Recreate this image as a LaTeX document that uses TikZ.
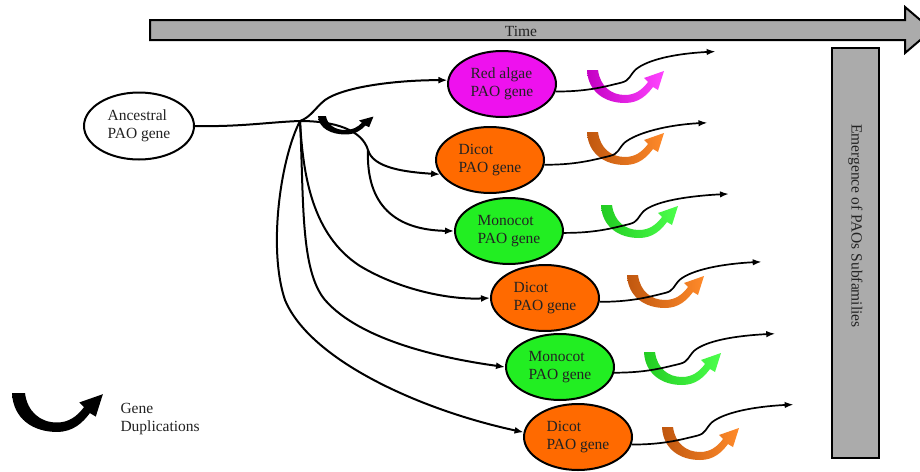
\documentclass[tikz,border=0pt]{standalone}
\usepackage{fontspec}
\setmainfont{Liberation Serif}
\usetikzlibrary{arrows.meta,shapes.geometric,calc}
\definecolor{pgray}{HTML}{ABABAB}
\definecolor{magE}{HTML}{EE11EE}
\definecolor{orE}{HTML}{FF6A00}
\definecolor{grE}{HTML}{22EE22}
\definecolor{magA}{HTML}{C400C4}
\definecolor{magB}{HTML}{FF44FF}
\definecolor{orA}{HTML}{C0570F}
\definecolor{orB}{HTML}{FF8A2A}
\definecolor{grA}{HTML}{22CC22}
\definecolor{grB}{HTML}{4CFF4C}
\definecolor{txt}{HTML}{222222}
\tikzset{
  gene/.style={ellipse,draw=black,line width=2pt,minimum width=108pt,minimum height=66pt,
    inner sep=0pt,align=left,text=txt,font=\fontsize{15.5}{18}\selectfont},
  link/.style={line width=2pt,-{Latex[length=9pt,width=7pt]}},
  outl/.style={line width=1.7pt,-{Latex[length=9pt,width=6.5pt]}},
  lbl/.style={text=txt,font=\fontsize{15.5}{18}\selectfont},
  pics/dup/.style 2 args={code={
    \shade[left color=#1,right color=#2]
      (0,0) .. controls (1,22) and (18,33) .. (38,33)
      .. controls (52,33) and (60,25) .. (66,17) -- (71,20) -- (77,1) -- (57,8) -- (61,12)
      .. controls (55,20) and (48,25) .. (38,25)
      .. controls (24,25) and (13,16) .. (11,0) -- cycle;}}
}
\begin{document}
\begin{tikzpicture}[x=1pt,y=-1pt]
\useasboundingbox (0,0) rectangle (920,471);
\fill[white] (0,0) rectangle (920,471);

% time arrow
\draw[line width=2pt,fill=pgray] (150,20) -- (905,20) -- (905,7) -- (932,30) -- (905,53) -- (905,40) -- (150,40) -- cycle;
\node[lbl] (time) at (521,31) {Time};

% emergence bar
\draw[line width=2pt,fill=pgray] (832,48) rectangle (879,458);
\node[lbl,rotate=-90] (emg) at (855.5,226) {Emergence of PAOs Subfamilies};

% genes
\node[gene,fill=white,minimum width=110pt,minimum height=67pt] (anc) at (139,126) {Ancestral\\PAO gene};
\node[gene,fill=magE] (ra) at (502,84) {Red algae\\PAO gene};
\node[gene,fill=orE] (d1) at (490,160) {Dicot\\PAO gene};
\node[gene,fill=grE] (m1) at (509,231) {Monocot\\PAO gene};
\node[gene,fill=orE] (d2) at (545,298) {Dicot\\PAO gene};
\node[gene,fill=grE] (m2) at (560,367) {Monocot\\PAO gene};
\node[gene,fill=orE] (d3) at (578,437) {Dicot\\PAO gene};

% duplication arrows
\pic[xscale=0.72,yscale=0.56] at (318,116) {dup={black}{black}};
\pic at (587,70) {dup={magA}{magB}};
\pic at (587,132) {dup={orA}{orB}};
\pic at (601,205) {dup={grA}{grB}};
\pic at (627,275) {dup={orA}{orB}};
\pic at (644,352) {dup={grA}{grB}};
\pic at (662,427) {dup={orA}{orB}};
\pic[scale=1.18] at (12,393) {dup={black}{black}};
\node[lbl,align=left,anchor=west] (leg) at (117,419) {Gene\\Duplications};

% tree
\coordinate (j) at (300,121);
\coordinate (k) at (368,150);
\draw[line width=2pt] (anc.east) .. controls (240,127) and (270,122) .. (j);
\draw[link] (j) .. controls (311,117) and (315,108) .. (325,100) .. controls (345,86) and (400,80) .. (ra.176);
\draw[line width=2pt] (j) .. controls (335,121) and (362,130) .. (k);
\draw[link] (k) .. controls (373,168) and (405,172) .. (d1.196);
\draw[link] (k) .. controls (366,205) and (395,230) .. (m1.west);
\draw[link] (j) .. controls (303,175) and (312,235) .. (360,266) .. controls (400,290) and (450,300) .. (d2.west);
\draw[link] (j) .. controls (304,200) and (300,270) .. (325,300) .. controls (360,340) and (440,358) .. (m2.west);
\draw[link] (j) .. controls (280,160) and (268,250) .. (285,300) .. controls (310,360) and (420,410) .. (d3.175);

% outputs
\draw[outl] (ra.-8) .. controls +(30,0) and +(-20,5) .. ++(66,-9) .. controls +(8,-2) and +(-6,6) .. ++(14,-13) .. controls +(12,-10) and +(-40,2) .. ++(80,-18) coordinate (ra-e);
\draw[outl] (d1.-5) .. controls +(30,0) and +(-20,5) .. ++(66,-9) .. controls +(8,-2) and +(-6,6) .. ++(14,-13) .. controls +(12,-10) and +(-40,2) .. ++(83,-20) coordinate (d1-e);
\draw[outl] (m1.-2) .. controls +(30,0) and +(-20,5) .. ++(66,-9) .. controls +(8,-2) and +(-6,6) .. ++(14,-13) .. controls +(12,-10) and +(-40,2) .. ++(85,-17) coordinate (m1-e);
\draw[outl] (d2.-4) .. controls +(30,0) and +(-20,5) .. ++(66,-9) .. controls +(8,-2) and +(-6,6) .. ++(14,-13) .. controls +(12,-10) and +(-40,2) .. ++(82,-18) coordinate (d2-e);
\draw[outl] (m2.-6) .. controls +(30,0) and +(-20,5) .. ++(66,-9) .. controls +(8,-2) and +(-6,6) .. ++(14,-13) .. controls +(12,-10) and +(-40,2) .. ++(81,-17) coordinate (m2-e);
\draw[outl] (d3.-8) .. controls +(30,0) and +(-20,5) .. ++(66,-9) .. controls +(8,-2) and +(-6,6) .. ++(14,-13) .. controls +(12,-10) and +(-40,2) .. ++(82,-18) coordinate (d3-e);
\end{tikzpicture}
\end{document}
